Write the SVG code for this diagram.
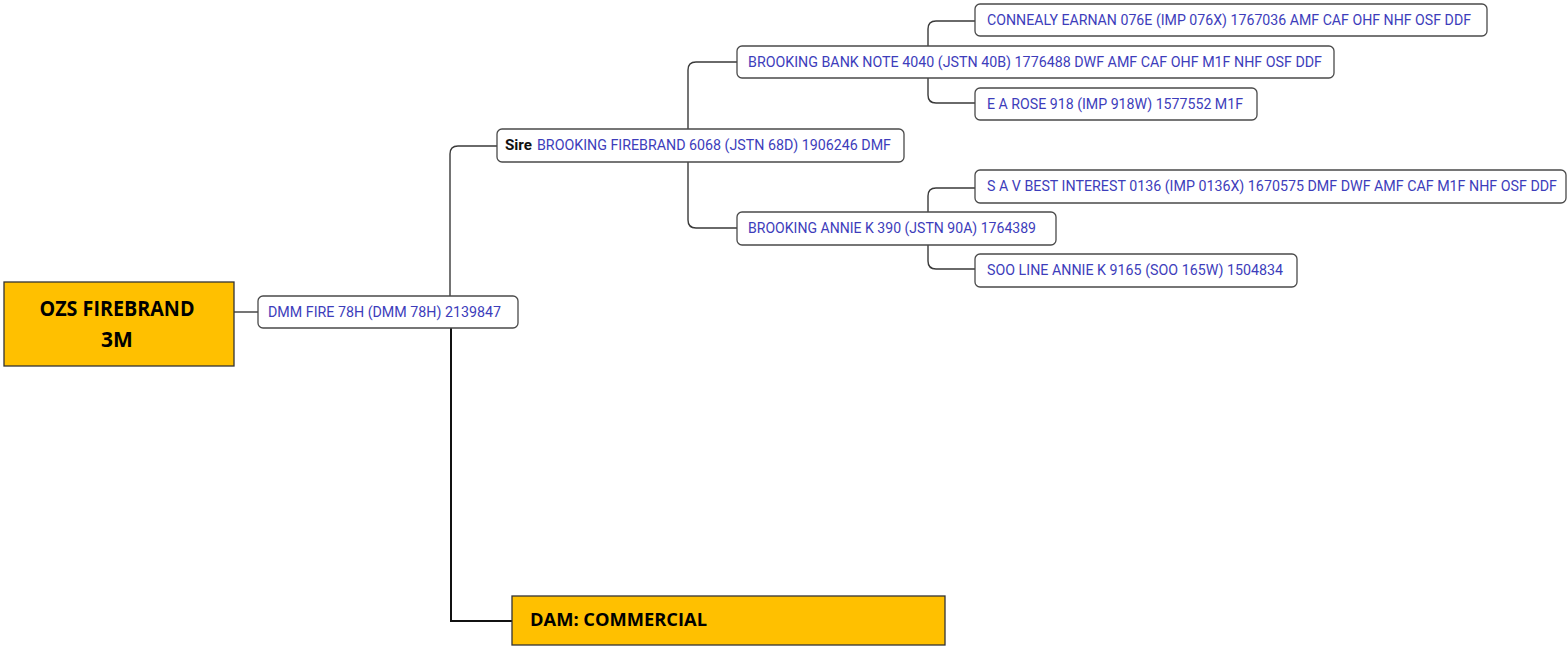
<svg xmlns="http://www.w3.org/2000/svg" width="1567" height="647" viewBox="0 0 1567 647">
<style>
.box{fill:#ffffff;stroke:#4a4a4a;stroke-width:1.3}
.t{font-family:Roboto,"Liberation Sans",sans-serif;font-size:14px;fill:#3d3dbb}
.b{font-family:Roboto,"Liberation Sans",sans-serif;font-size:14px;font-weight:bold;fill:#111}
.gold{fill:#FFC000;stroke:#333;stroke-width:1.3}
.big{font-family:"Open Sans","Liberation Sans",sans-serif;font-weight:bold;fill:#000}
.c{fill:none;stroke:#3a3a3a;stroke-width:1.4}
.c2{fill:none;stroke:#111;stroke-width:2}
</style>
<rect width="1567" height="647" fill="#ffffff"/>
<g id="connectors">
<path class="c" d="M234,312 H258"/>
<path class="c" d="M450,297 V154 Q450,146 458,146 H497"/>
<path class="c2" d="M451,328 V621 H512"/>
<path class="c" d="M688,129 V70 Q688,62 696,62 H737"/>
<path class="c" d="M688,162 V220 Q688,228 696,228 H737"/>
<path class="c" d="M928,46 V29 Q928,21 936,21 H975"/>
<path class="c" d="M928,78 V95 Q928,103 936,103 H975"/>
<path class="c" d="M928,212 V196 Q928,188 936,188 H975"/>
<path class="c" d="M928,245 V261 Q928,269 936,269 H975"/>
</g>
<g id="root">
<rect class="gold" x="4" y="282" width="230" height="84"/>
<text class="big" x="117" y="316" font-size="21" text-anchor="middle" textLength="155" lengthAdjust="spacingAndGlyphs">OZS FIREBRAND</text>
<text class="big" x="117" y="347" font-size="21" text-anchor="middle">3M</text>
</g>
<g id="dmm">
<rect class="box" x="258" y="296" width="260" height="32" rx="5"/>
<text class="t" x="268" y="317" textLength="233" lengthAdjust="spacingAndGlyphs">DMM FIRE 78H (DMM 78H) 2139847</text>
</g>
<g id="sire">
<rect class="box" x="497" y="129" width="407" height="33" rx="5"/>
<text class="b" x="505" y="150" textLength="27" lengthAdjust="spacingAndGlyphs">Sire</text>
<text class="t" x="537" y="150" textLength="354" lengthAdjust="spacingAndGlyphs">BROOKING FIREBRAND 6068 (JSTN 68D) 1906246 DMF</text>
</g>
<g id="bbn">
<rect class="box" x="737" y="46" width="597" height="32" rx="5"/>
<text class="t" x="748" y="67" textLength="574" lengthAdjust="spacingAndGlyphs">BROOKING BANK NOTE 4040 (JSTN 40B) 1776488 DWF AMF CAF OHF M1F NHF OSF DDF</text>
</g>
<g id="connealy">
<rect class="box" x="975" y="4" width="512" height="32" rx="5"/>
<text class="t" x="987" y="25" textLength="484" lengthAdjust="spacingAndGlyphs">CONNEALY EARNAN 076E (IMP 076X) 1767036 AMF CAF OHF NHF OSF DDF</text>
</g>
<g id="earose">
<rect class="box" x="975" y="88" width="282" height="32" rx="5"/>
<text class="t" x="987" y="109" textLength="256" lengthAdjust="spacingAndGlyphs">E A ROSE 918 (IMP 918W) 1577552 M1F</text>
</g>
<g id="annie">
<rect class="box" x="737" y="212" width="319" height="33" rx="5"/>
<text class="t" x="748" y="233" textLength="288" lengthAdjust="spacingAndGlyphs">BROOKING ANNIE K 390 (JSTN 90A) 1764389</text>
</g>
<g id="sav">
<rect class="box" x="975" y="170" width="591" height="33" rx="5"/>
<text class="t" x="987" y="191" textLength="570" lengthAdjust="spacingAndGlyphs">S A V BEST INTEREST 0136 (IMP 0136X) 1670575 DMF DWF AMF CAF M1F NHF OSF DDF</text>
</g>
<g id="soo">
<rect class="box" x="975" y="254" width="322" height="33" rx="5"/>
<text class="t" x="987" y="275" textLength="296" lengthAdjust="spacingAndGlyphs">SOO LINE ANNIE K 9165 (SOO 165W) 1504834</text>
</g>
<g id="dam">
<rect class="gold" x="512" y="596" width="433" height="49"/>
<text class="big" x="530" y="626" font-size="18" textLength="177" lengthAdjust="spacingAndGlyphs">DAM: COMMERCIAL</text>
</g>
</svg>
